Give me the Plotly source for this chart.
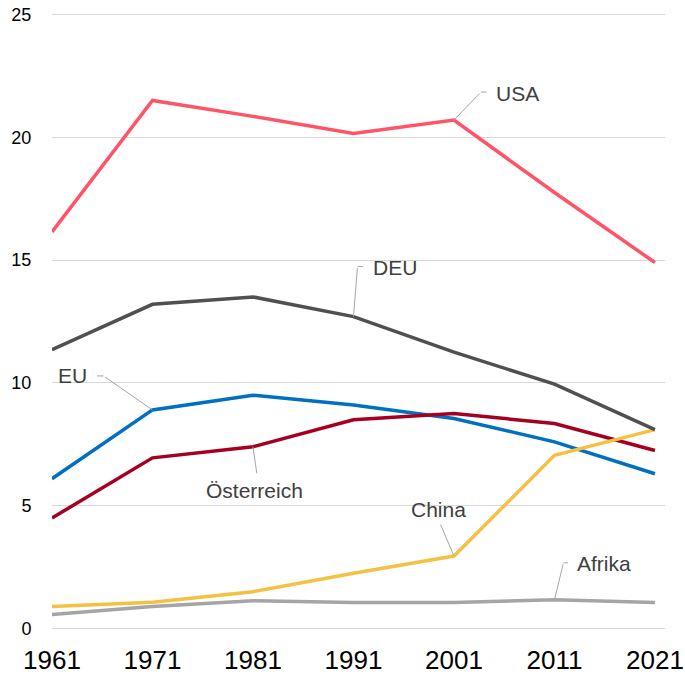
import plotly.graph_objects as go

years = [1961, 1971, 1981, 1991, 2001, 2011, 2021]

usa = [16.15, 21.5, 20.85, 20.15, 20.7, 17.75, 14.9]
deu = [11.35, 13.2, 13.5, 12.7, 11.25, 9.95, 8.1]
eu = [6.1, 8.9, 9.5, 9.1, 8.55, 7.6, 6.3]
oesterreich = [4.5, 6.95, 7.4, 8.5, 8.75, 8.35, 7.25]
china = [0.9, 1.07, 1.5, 2.25, 2.95, 7.05, 8.1]
afrika = [0.57, 0.9, 1.13, 1.06, 1.06, 1.17, 1.06]

# name, values, colour
series = [
    ("Afrika", afrika, "#A5A5A5"),
    ("EU", eu, "#0070C0"),
    ("Österreich", oesterreich, "#A50021"),
    ("China", china, "#F4C142"),
    ("DEU", deu, "#505050"),
    ("USA", usa, "#FF5468"),
]

LEADER = "#A6A6A6"
LABEL = "#404040"
FONT = "Arial, Liberation Sans, sans-serif"

fig = go.Figure()
for name, vals, color in series:
    fig.add_trace(go.Scatter(
        x=years, y=vals, mode="lines", name=name,
        line=dict(color=color, width=3.5),
        showlegend=False, hoverinfo="skip",
    ))

# label specs: (text, values, index, leader ax/ay, stub (xshift, yshift, ax) or None,
#               text xshift, yshift, xanchor)
labels = [
    ("USA", usa, 4, (27, -28), (27, 28, 7), 40, 27, "left"),
    ("DEU", deu, 3, (4, -50), (4, 50, 7), 18, 49, "left"),
    ("EU", eu, 1, (-49, -34), (-49, 34, -8), -63, 34, "right"),
    ("Österreich", oesterreich, 2, (4, 28), None, 2, -44, "center"),
    ("China", china, 4, (-14, -33), None, -15, 47, "center"),
    ("Afrika", afrika, 5, (9, -37), (9, 37, 6), 21, 36, "left"),
]

annotations = []
for text, vals, i, (ax, ay), stub, tx, ty, anchor in labels:
    x, y = years[i], vals[i]
    arrow = dict(showarrow=True, arrowhead=0, arrowwidth=1, arrowcolor=LEADER,
                 standoff=0, startstandoff=0, text="", axref="pixel", ayref="pixel")
    annotations.append(dict(x=x, y=y, ax=ax, ay=ay, **arrow))
    if stub:
        sx, sy, sax = stub
        annotations.append(dict(x=x, y=y, xshift=sx, yshift=sy, ax=sax, ay=0, **arrow))
    annotations.append(dict(
        x=x, y=y, xshift=tx, yshift=ty, text=text, showarrow=False,
        xanchor=anchor, yanchor="middle",
        font=dict(family=FONT, size=21, color=LABEL),
    ))

fig.update_layout(
    width=685, height=674,
    paper_bgcolor="white", plot_bgcolor="white",
    margin=dict(l=52, r=20, t=12, b=43),
    font=dict(family=FONT, color="black"),
    xaxis=dict(
        range=[1961, 2022], tickvals=years, showgrid=False, zeroline=False,
        showline=False, ticks="outside", ticklen=6, tickcolor="rgba(0,0,0,0)",
        tickfont=dict(size=26, color="black"), automargin=False,
    ),
    yaxis=dict(
        range=[-0.1, 25.1], tickvals=[0, 5, 10, 15, 20, 25],
        showgrid=True, gridcolor="#D9D9D9", gridwidth=1,
        zeroline=False, showline=False, ticks="outside", ticklen=16,
        tickcolor="rgba(0,0,0,0)", tickfont=dict(size=18, color="black"),
        automargin=False,
    ),
    annotations=annotations,
    hovermode=False,
)

fig.write_html("out.html", config={"displayModeBar": False},
               post_script="document.body.style.margin='0';")
